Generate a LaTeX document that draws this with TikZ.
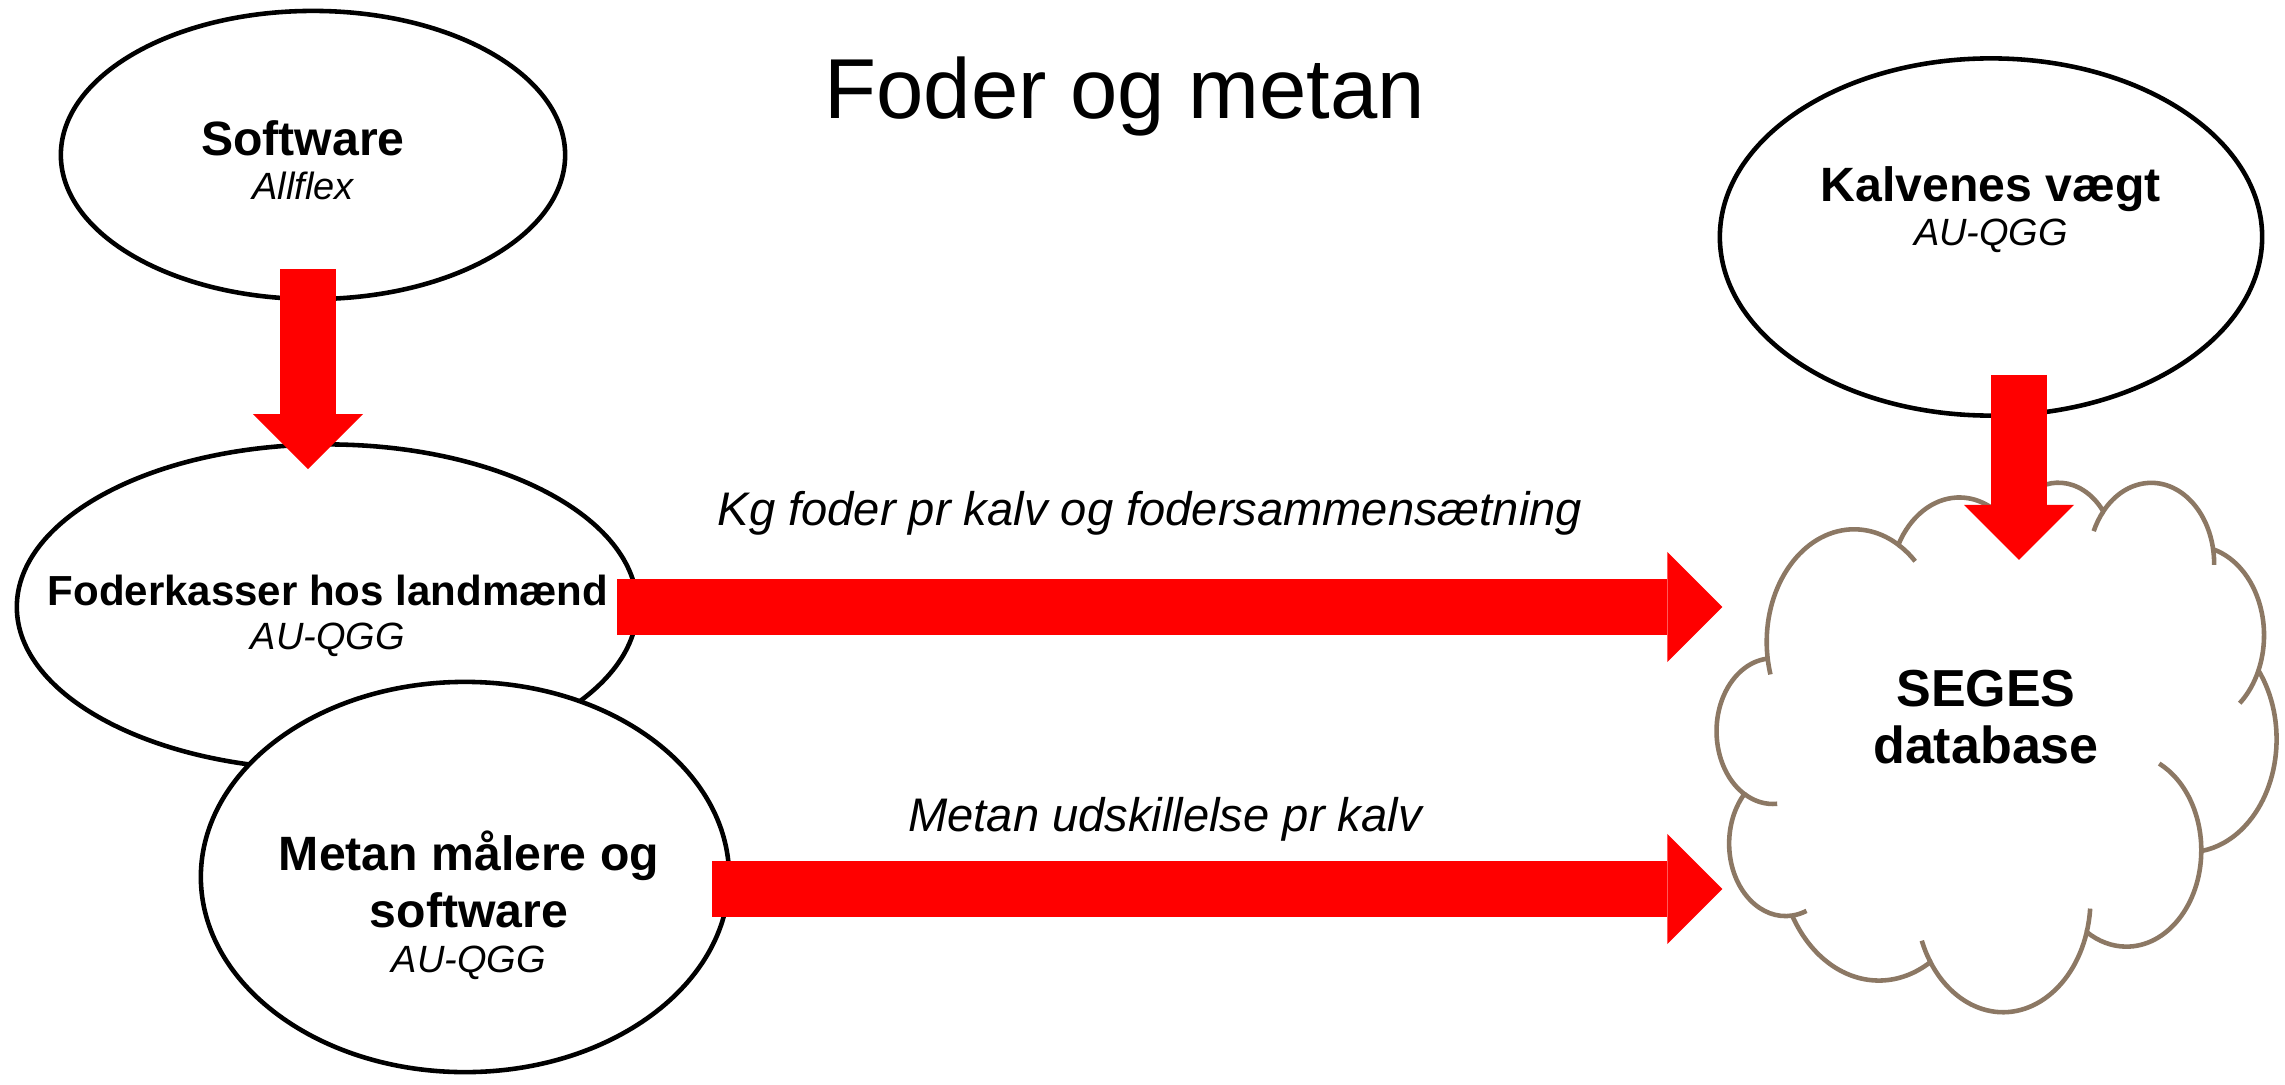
\documentclass[tikz,border=0pt]{standalone}
\usepackage{fontspec}
\setmainfont{Liberation Sans}
\usepackage{tikz}
\usetikzlibrary{positioning}
\usetikzlibrary{arrows.meta,shapes.geometric}

\definecolor{cloudbrown}{RGB}{140,120,100}
\newcommand\bubblehead{\fontsize{13.7}{16.2}\selectfont\bfseries}
\newcommand\bubblesub{\fontsize{10.8}{12.5}\selectfont\itshape}

\begin{document}
\begin{tikzpicture}[x=0.01cm,y=-0.01cm,
  bubble/.style={ellipse,draw,line width=1.3pt,fill=white},
  btext/.style={align=center,inner sep=0pt,font=\fontsize{10.8}{12.5}\selectfont},
  feed/.style={red,line width=0.56cm,-{Triangle[length=0.55cm,width=1.1cm,line width=0pt]}},
  flow/.style={inner sep=0pt,outer sep=0pt,text=black,font=\fontsize{13.4}{16}\selectfont\itshape},
  cloudline/.style={draw=cloudbrown,line width=1.3pt}]
  \path[use as bounding box,fill=white] (0,0) rectangle (2285,1085);

  \node[anchor=base,font=\fontsize{24.2}{29}\selectfont] (title) at (1125,119) {Foder og metan};

  \node[bubble,minimum width=5.04cm,minimum height=2.88cm] (soft) at (313,155) {};
  \node[bubble,minimum width=6.2cm,minimum height=3.25cm] (foder) at (327,607) {};
  \node[bubble,minimum width=5.28cm,minimum height=3.9cm] (metan) at (465,877) {};
  \node[bubble,minimum width=5.42cm,minimum height=3.57cm] (kalv) at (1991,237) {};

  % cloud outline, unit box = cloud bounds
  \begin{scope}[shift={(1717,481)},x=5.59cm,y=-5.29cm,cloudline]
    \draw[fill=white] (.09028,.33264)
      arc[start angle=-187.75,end angle=-59.63,x radius=.15632,y radius=.21273]
      arc[start angle=-152.03,end angle=-45.46,x radius=.12345,y radius=.16822]
      arc[start angle=-153.50,end angle=-37.32,x radius=.10104,y radius=.13762]
      arc[start angle=-139.71,end angle=-10.21,x radius=.11243,y radius=.15266]
      arc[start angle=-74.77,end angle=23.21,x radius=.12345,y radius=.16836]
      arc[start angle=-37.51,end angle=81.86,x radius=.15683,y radius=.21343]
      arc[start angle=0.46,end angle=121.98,x radius=.13391,y radius=.18211]
      arc[start angle=16.84,end angle=146.22,x radius=.15630,y radius=.21331]
      arc[start angle=58.98,end angle=150.20,x radius=.17870,y radius=.24405]
      arc[start angle=83.31,end angle=223.11,x radius=.10093,y radius=.13699]
      arc[start angle=120.36,end angle=264.11,x radius=.10058,y radius=.13762]
      -- cycle;
    % inner hooks
    \draw (.09977,.47257) ++(85.55:.10058 and .13762) arc[start angle=85.55,end angle=120.36,x radius=.10058,y radius=.13762];
    \draw (.12261,.68493) ++(68.24:.10093 and .13699) arc[start angle=68.24,end angle=83.31,x radius=.10093,y radius=.13699];
    \draw (.51143,.79026) ++(146.22:.15630 and .21331) arc[start angle=146.22,end angle=158.47,x radius=.15630,y radius=.21331];
    \draw (.51143,.79026) ++(4.74:.15630 and .21331) arc[start angle=4.74,end angle=16.84,x radius=.15630,y radius=.21331];
    \draw (.73194,.69759) ++(-64.03:.13391 and .18211) arc[start angle=-64.03,end angle=0.46,x radius=.13391,y radius=.18211];
    \draw (.85460,.29149) ++(23.21:.12345 and .16836) arc[start angle=23.21,end angle=49.65,x radius=.12345,y radius=.16836];
    \draw (.77638,.15611) ++(-10.21:.11243 and .15266) arc[start angle=-10.21,end angle=0.82,x radius=.11243,y radius=.15266];
    \draw (.77638,.15611) ++(-156.29:.11243 and .15266) arc[start angle=-156.29,end angle=-139.71,x radius=.11243,y radius=.15266];
    \draw (.61026,.14083) ++(-167.72:.10104 and .13762) arc[start angle=-167.72,end angle=-153.50,x radius=.10104,y radius=.13762];
    \draw (.24517,.30397) ++(-59.63:.15632 and .21273) arc[start angle=-59.63,end angle=-45.74,x radius=.15632,y radius=.21273];
    \draw (.24517,.30397) ++(163.20:.15632 and .21273) arc[start angle=163.20,end angle=172.25,x radius=.15632,y radius=.21273];
  \end{scope}

  \node[btext] (soft-txt) at (303,160.5) {{\bubblehead Software}\\{\bubblesub Allflex}};
  \node[btext] (foder-txt) at (328,615.5)
    {{\fontsize{11.95}{14}\selectfont\bfseries Foderkasser hos landmænd}\\{\bubblesub AU-QGG}};
  \node[btext,font=\fontsize{10.8}{16.2}\selectfont] (metan-txt) at (469,905.5)
    {{\bubblehead Metan målere og}\\{\bubblehead software}\\[-3.4pt]{\bubblesub AU-QGG}};
  \node[btext] (kalv-txt) at (1991,209.5) {{\bubblehead Kalvenes vægt}\\{\bubblesub AU-QGG}};
  \node[btext,font=\fontsize{14.8}{16.2}\selectfont\bfseries] (seges) at (1986,717.5) {SEGES\\database};

  \coordinate (soft-out) at ([xshift=-0.05cm]soft.south);
  \coordinate (metan-out) at ([yshift=-0.12cm]metan.east);
  \coordinate (kalv-out) at ([xshift=0.28cm]kalv.south);
  \path[feed] (soft-out) edge[shorten <=-0.32cm,shorten >=-0.27cm] (soft-out |- foder.north)
    (foder.east) edge[shorten <=-0.22cm,shorten >=1.5cm] node[flow,above=0.72cm,pos=0.414] {Kg foder pr kalv og fodersammensætning} (foder.east -| seges.west)
    (metan-out) edge[shorten <=-0.19cm,shorten >=1.5cm] node[flow,above=0.48cm,pos=0.38] {Metan udskillelse pr kalv} (metan-out -| seges.west)
    (kalv-out) edge[shorten <=-0.43cm,shorten >=1.1cm] (kalv-out |- seges.north);
\end{tikzpicture}
\end{document}
